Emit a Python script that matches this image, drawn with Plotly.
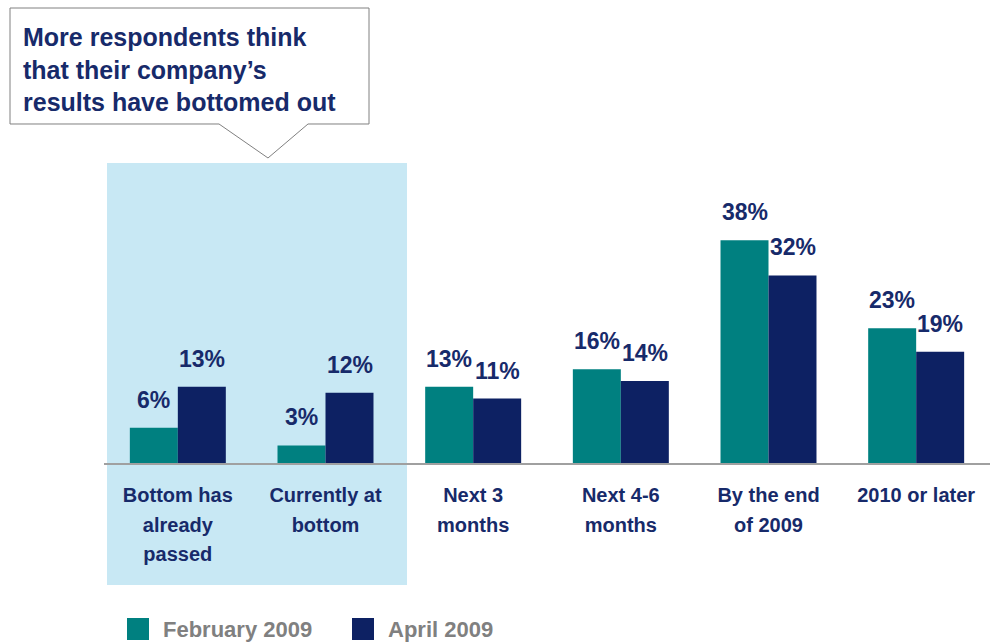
import plotly.graph_objects as go

# Survey data: when respondents expect their company's results to bottom out
categories = [
    "Bottom has|already|passed",
    "Currently at|bottom",
    "Next 3|months",
    "Next 4-6|months",
    "By the end|of 2009",
    "2010 or later",
]
series_names = ["February 2009", "April 2009"]
feb_2009 = [6, 3, 13, 16, 38, 23]
apr_2009 = [13, 12, 11, 14, 32, 19]
callout_lines = [
    "More respondents think",
    "that their company\u2019s",
    "results have bottomed out",
]

TEAL = "#008080"
NAVY = "#0D2163"
TEXT_NAVY = "#172A6A"
GRAY_TEXT = "#808080"
FONT = "Liberation Sans, Arial, sans-serif"

W, H = 992, 643
ML, MR, MT, MB = 104, 2, 170, 180
PW, PH = W - ML - MR, H - MT - MB
BASE_Y = H - MB


def px_x(x):
    return (x - ML) / PW


def px_y(y):
    return (BASE_Y - y) / PH


cat_ids = [c.replace("|", " ") for c in categories]
# tick labels: outer font sets the line pitch, inner span sets glyph size
tick_text = [
    '<span style="font-size:20px"><b>' + c.replace("|", "<br>") + "</b></span>"
    for c in categories
]

fig = go.Figure()
for name, vals, col in [(series_names[0], feb_2009, TEAL), (series_names[1], apr_2009, NAVY)]:
    fig.add_trace(go.Bar(
        x=cat_ids, y=vals, name=name, marker=dict(color=col, line=dict(width=0)),
        showlegend=False, hoverinfo="skip",
    ))

# value labels above each bar
for i, c in enumerate(cat_ids):
    for vals, shift in [(feb_2009, -24), (apr_2009, 24)]:
        fig.add_annotation(
            x=c, y=vals[i], xref="x", yref="y", text=f"<b>{vals[i]}%</b>",
            showarrow=False, xshift=shift, yanchor="bottom", yshift=13,
            font=dict(family=FONT, size=23, color=TEXT_NAVY),
        )

shapes = []
# highlighted region behind the first two categories
shapes.append(dict(
    type="rect", xref="paper", yref="paper", layer="below",
    x0=px_x(107), x1=px_x(407), y0=px_y(585), y1=px_y(163),
    fillcolor="#C8E8F4", line=dict(width=0),
))
# callout box with pointer
pts = [(10, 8), (369, 8), (369, 124), (308, 124), (268, 158), (219, 124), (10, 124)]
path = "M " + " L ".join(f"{px_x(x):.5f},{px_y(y):.5f}" for x, y in pts) + " Z"
shapes.append(dict(
    type="path", xref="paper", yref="paper", path=path,
    fillcolor="white", line=dict(color="#808080", width=1),
))
# legend swatches
for (x0, col) in [(127, TEAL), (352, NAVY)]:
    shapes.append(dict(
        type="rect", xref="paper", yref="paper",
        x0=px_x(x0), x1=px_x(x0 + 22), y0=px_y(640), y1=px_y(618),
        fillcolor=col, line=dict(width=0),
    ))

annotations = [
    dict(
        xref="paper", yref="paper", x=px_x(21), y=px_y(21), xanchor="left", yanchor="top",
        text="<b>" + "<br>".join(callout_lines) + "</b>", align="left", showarrow=False,
        font=dict(family=FONT, size=25, color=TEXT_NAVY),
    ),
]
for x0, name in [(161, series_names[0]), (386, series_names[1])]:
    annotations.append(dict(
        xref="paper", yref="paper", x=px_x(x0), y=px_y(629), xanchor="left", yanchor="middle",
        text=f"<b>{name}</b>", showarrow=False,
        font=dict(family=FONT, size=22, color=GRAY_TEXT),
    ))

fig.update_layout(
    width=W, height=H,
    margin=dict(l=ML, r=MR, t=MT, b=MB, pad=0),
    paper_bgcolor="white", plot_bgcolor="rgba(0,0,0,0)",
    barmode="group", bargap=0.35, bargroupgap=0,
    shapes=shapes,
    font=dict(family=FONT),
)
for a in annotations:
    fig.add_annotation(**a)

fig.update_xaxes(
    type="category", tickmode="array", tickvals=cat_ids, ticktext=tick_text,
    tickfont=dict(family=FONT, size=23, color=TEXT_NAVY),
    showline=True, linecolor="#A0A0A0", linewidth=2, ticks="",
    showgrid=False, zeroline=False, ticklabelstandoff=9,
)
fig.update_yaxes(range=[0, 50], visible=False, showgrid=False, zeroline=False)

fig.write_html("out.html")
